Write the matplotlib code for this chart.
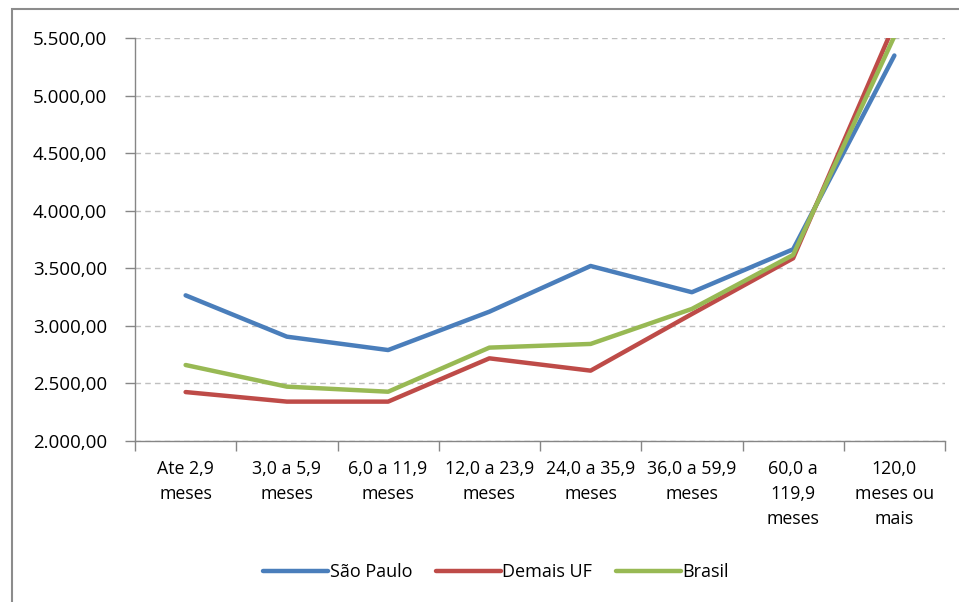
import matplotlib
matplotlib.use("Agg")
import matplotlib.pyplot as plt
from matplotlib.ticker import FuncFormatter, FixedLocator, NullFormatter
from matplotlib.patches import Rectangle

categories = ["Ate 2,9\nmeses", "3,0 a 5,9\nmeses", "6,0 a 11,9\nmeses", "12,0 a 23,9\nmeses",
              "24,0 a 35,9\nmeses", "36,0 a 59,9\nmeses", "60,0 a\n119,9\nmeses", "120,0\nmeses ou\nmais"]
sao_paulo = [3265, 2906, 2790, 3123, 3520, 3292, 3665, 5348]
demais_uf = [2425, 2342, 2342, 2718, 2611, 3103, 3587, 5620]
brasil = [2660, 2472, 2428, 2811, 2843, 3147, 3616, 5515]
series_names = ["São Paulo", "Demais UF", "Brasil"]
colors = ["#4A7EBB", "#BE4B48", "#98B954"]

plt.rcParams['font.family'] = ['Open Sans', 'DejaVu Sans']

W, H = 959, 602
fig = plt.figure(figsize=(W / 100, H / 100), dpi=100)
fig.patches.append(Rectangle((12 / W, -0.01), 1.0, 1 - 9 / H + 0.01, transform=fig.transFigure,
                             fill=False, edgecolor="#8C8C8C", linewidth=1.5))
ax = fig.add_axes([135 / W, 1 - 441 / H, (945 - 135) / W, (441 - 38) / H])

x = list(range(len(categories)))
for vals, name, c in zip([sao_paulo, demais_uf, brasil], series_names, colors):
    ax.plot(x, vals, color=c, lw=3.2, label=name, solid_capstyle="round", solid_joinstyle="round")

ax.set_xlim(-0.5, len(categories) - 0.5)
ax.set_ylim(2000, 5500)
ax.set_yticks([2000, 2500, 3000, 3500, 4000, 4500, 5000, 5500])
ax.yaxis.set_major_formatter(FuncFormatter(lambda v, p: f"{v:,.2f}".replace(",", "X").replace(".", ",").replace("X", ".")))
ax.grid(axis="y", color="#BFBFBF", linestyle=(0, (4, 3)), linewidth=1)
ax.set_axisbelow(True)

ax.set_xticks(x)
ax.set_xticklabels(categories, fontsize=12.8, linespacing=1.5, color="#000000")
ax.xaxis.set_minor_locator(FixedLocator([i - 0.5 for i in range(len(categories) + 1)]))
ax.xaxis.set_minor_formatter(NullFormatter())
ax.tick_params(axis="x", which="major", length=0, pad=14)
ax.tick_params(axis="x", which="minor", length=7, color="#868686", width=1)
ax.tick_params(axis="y", length=7, color="#868686", width=1, labelsize=13.5, pad=13)

for s in ["top", "right"]:
    ax.spines[s].set_visible(False)
for s in ["left", "bottom"]:
    ax.spines[s].set_color("#868686")
    ax.spines[s].set_linewidth(1)

fig.legend(loc="center", bbox_to_anchor=(496 / W, 1 - 572 / H), ncol=3, frameon=False,
           fontsize=13, handlelength=3.6, handletextpad=0.1, columnspacing=1.3)

fig.savefig("out.png", dpi=100)
